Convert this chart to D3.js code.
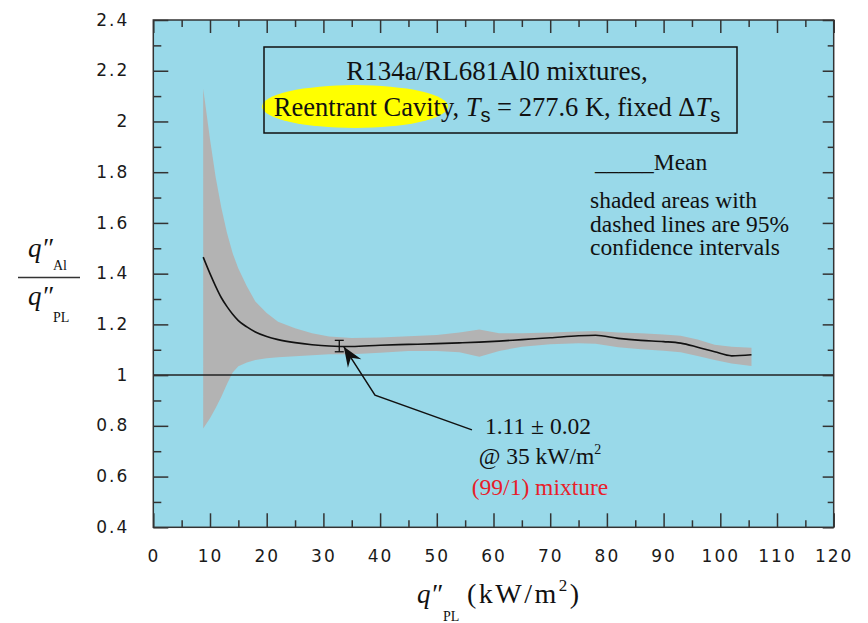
<!DOCTYPE html>
<html>
<head>
<meta charset="utf-8">
<script src="https://cdn.jsdelivr.net/npm/d3@7"></script>
<style>
  body { margin: 0; background: #fff; }
  .serif { font-family: "Liberation Serif", "Times New Roman", serif; fill: #111; }
  .tick text { font-family: "DejaVu Sans", sans-serif; font-size: 17px; letter-spacing: 2px; fill: #1a1a1a; }
  .tick line { stroke: #333; stroke-width: 1.5; }
</style>
</head>
<body>
<div id="chart"></div>
<script>
// heat flux on the plain surface, kW/m^2
const qPL = [8.8, 10, 11, 12, 13, 14, 15, 16.5, 18, 20, 22, 25, 28, 31, 35, 40, 45, 50, 54, 57.5, 61, 65, 70, 75, 78, 82, 86, 90, 93, 96, 99, 102, 105.5];
// mean heat flux ratio q"Al / q"PL
const meanRatio = [1.465, 1.40, 1.35, 1.305, 1.27, 1.24, 1.215, 1.19, 1.17, 1.152, 1.14, 1.128, 1.12, 1.115, 1.113, 1.118, 1.121, 1.124, 1.127, 1.13, 1.134, 1.14, 1.147, 1.155, 1.157, 1.145, 1.137, 1.132, 1.126, 1.11, 1.092, 1.076, 1.08];
// 95% confidence bounds
const upperCI = [2.13, 1.93, 1.78, 1.66, 1.56, 1.48, 1.42, 1.35, 1.29, 1.245, 1.21, 1.185, 1.165, 1.152, 1.146, 1.148, 1.153, 1.158, 1.168, 1.18, 1.165, 1.165, 1.168, 1.172, 1.174, 1.168, 1.165, 1.16, 1.155, 1.14, 1.12, 1.112, 1.108];
const lowerCI = [0.79, 0.83, 0.87, 0.915, 0.965, 1.01, 1.035, 1.05, 1.06, 1.066, 1.07, 1.074, 1.078, 1.082, 1.082, 1.088, 1.095, 1.095, 1.09, 1.072, 1.095, 1.112, 1.122, 1.126, 1.124, 1.11, 1.102, 1.096, 1.09, 1.075, 1.06, 1.046, 1.036];

const xTicks = [0, 10, 20, 30, 40, 50, 60, 70, 80, 90, 100, 110, 120];
const xMinor = [5, 15, 25, 35, 45, 55, 65, 75, 85, 95, 105, 115];
const yTicks = [0.4, 0.6, 0.8, 1, 1.2, 1.4, 1.6, 1.8, 2, 2.2, 2.4];
const yMinor = [0.5, 0.7, 0.9, 1.1, 1.3, 1.5, 1.7, 1.9, 2.1, 2.3];

// annotated point: 1.11 +/- 0.02 at 35 kW/m^2
const errX = 32.8, errLow = 1.092, errHigh = 1.137;
const arrowPts = [[56.2, 0.784], [39.1, 0.921], [33.6, 1.112]];

const width = 868, height = 623;
const plotLeft = 153.3, plotRight = 833.7, plotTop = 20, plotBottom = 527.3;

const svg = d3.select('#chart').append('svg')
    .attr('width', width)
    .attr('height', height);

const x = d3.scaleLinear().domain([0, 120]).range([plotLeft, plotRight]);
const y = d3.scaleLinear().domain([0.4, 2.4]).range([plotBottom, plotTop]);

svg.append('rect')
    .attr('x', plotLeft).attr('y', plotTop)
    .attr('width', plotRight - plotLeft).attr('height', plotBottom - plotTop)
    .attr('fill', '#99d9e9');

const rows = qPL.map((q, i) => ({ q, m: meanRatio[i], hi: upperCI[i], lo: lowerCI[i] }));

svg.append('path')
    .datum(rows)
    .attr('fill', '#b3b3b3')
    .attr('d', d3.area().x(d => x(d.q)).y0(d => y(d.lo)).y1(d => y(d.hi)));

// reference line at ratio 1
svg.append('line')
    .attr('x1', x(0)).attr('x2', x(120))
    .attr('y1', y(1)).attr('y2', y(1))
    .attr('stroke', '#222').attr('stroke-width', 1.5);

svg.append('path')
    .datum(rows)
    .attr('fill', 'none')
    .attr('stroke', '#111')
    .attr('stroke-width', 1.6)
    .attr('d', d3.line().x(d => x(d.q)).y(d => y(d.m)).curve(d3.curveMonotoneX));

// error bar
const eb = svg.append('g').attr('stroke', '#111').attr('stroke-width', 1.3);
eb.append('line').attr('x1', x(errX)).attr('x2', x(errX)).attr('y1', y(errLow)).attr('y2', y(errHigh));
[errLow, errHigh].forEach(v => {
    eb.append('line').attr('x1', x(errX) - 4.5).attr('x2', x(errX) + 4.5).attr('y1', y(v)).attr('y2', y(v));
});

// arrow
svg.append('defs').append('marker')
    .attr('id', 'arrow')
    .attr('markerUnits', 'userSpaceOnUse')
    .attr('markerWidth', 24).attr('markerHeight', 22)
    .attr('viewBox', '-22 -11 24 22')
    .attr('refX', 0).attr('refY', 0)
    .attr('orient', 'auto')
    .append('path')
    .attr('d', 'M0,0 L-20,-8 L-13,0 L-20,8 Z')
    .attr('fill', '#111');

svg.append('path')
    .datum(arrowPts)
    .attr('fill', 'none')
    .attr('stroke', '#111')
    .attr('stroke-width', 1.5)
    .attr('marker-end', 'url(#arrow)')
    .attr('d', d3.line().x(d => x(d[0])).y(d => y(d[1])));

// axes: major + minor ticks on all four sides
function drawAxis(axis, transform, values, size, labels, dy) {
    const g = svg.append('g').attr('transform', transform)
        .call(axis.tickValues(values).tickSizeInner(-size).tickSizeOuter(0)
            .tickFormat(labels ? d => String(d) : ''));
    g.select('.domain').remove();
    if (labels) g.selectAll('.tick text').attr('dy', dy);
    return g;
}
drawAxis(d3.axisBottom(x).tickPadding(23), `translate(0,${plotBottom})`, xTicks, 14, true, '0.71em');
drawAxis(d3.axisBottom(x), `translate(0,${plotBottom})`, xMinor, 7, false);
drawAxis(d3.axisTop(x), `translate(0,${plotTop})`, xTicks, 13, false);
drawAxis(d3.axisTop(x), `translate(0,${plotTop})`, xMinor, 7, false);
drawAxis(d3.axisLeft(y).tickPadding(24), `translate(${plotLeft},0)`, yTicks, 15, true, '0.3em');
drawAxis(d3.axisLeft(y), `translate(${plotLeft},0)`, yMinor, 8, false);
drawAxis(d3.axisRight(y), `translate(${plotRight},0)`, yTicks, 11, false);
drawAxis(d3.axisRight(y), `translate(${plotRight},0)`, yMinor, 6, false);

svg.append('rect')
    .attr('x', plotLeft).attr('y', plotTop)
    .attr('width', plotRight - plotLeft).attr('height', plotBottom - plotTop)
    .attr('fill', 'none').attr('stroke', '#333').attr('stroke-width', 1.5);

// title box
svg.append('ellipse')
    .attr('cx', 355).attr('cy', 106.5).attr('rx', 93).attr('ry', 21.5)
    .attr('fill', '#ffff00');
svg.append('rect')
    .attr('x', 264).attr('y', 47).attr('width', 473).attr('height', 86)
    .attr('fill', 'none').attr('stroke', '#111').attr('stroke-width', 1.5);

svg.append('text').attr('class', 'serif')
    .attr('x', 497).attr('y', 80).attr('text-anchor', 'middle')
    .attr('font-size', 27)
    .text('R134a/RL681Al0 mixtures,');

const t2 = svg.append('text').attr('class', 'serif')
    .attr('x', 497).attr('y', 116).attr('text-anchor', 'middle')
    .attr('font-size', 26.5);
t2.append('tspan').text('Reentrant Cavity, ');
t2.append('tspan').attr('font-style', 'italic').text('T');
t2.append('tspan').attr('font-family', 'Liberation Sans, Arial, sans-serif').attr('font-size', 20).attr('dy', 6).text('s');
t2.append('tspan').attr('dy', -6).text(' = 277.6 K, fixed \u0394');
t2.append('tspan').attr('font-style', 'italic').text('T');
t2.append('tspan').attr('font-family', 'Liberation Sans, Arial, sans-serif').attr('font-size', 20).attr('dy', 6).text('s');

// legend notes
svg.append('text').attr('class', 'serif')
    .attr('x', 595).attr('y', 170).attr('font-size', 23.5)
    .text('_____Mean');
const legendLines = ['shaded areas with', 'dashed lines are 95%', 'confidence intervals'];
svg.append('g').selectAll('text')
    .data(legendLines)
    .join('text')
    .attr('class', 'serif')
    .attr('x', 590).attr('y', (d, i) => 208 + i * 23.5)
    .attr('font-size', 23.5)
    .text(d => d);

// annotation text
const note = svg.append('g').attr('font-size', 23.5).attr('text-anchor', 'middle');
note.append('text').attr('class', 'serif').attr('x', 538).attr('y', 434).text('1.11 \u00b1 0.02');
const n2 = note.append('text').attr('class', 'serif').attr('x', 540).attr('y', 464);
n2.append('tspan').text('@ 35 kW/m');
n2.append('tspan').attr('font-size', 14).attr('dy', -10).text('2');
note.append('text').attr('x', 540).attr('y', 495)
    .style('font-family', '"Liberation Serif", "Times New Roman", serif')
    .style('fill', '#e8202a').text('(99/1) mixture');

// y axis label as a fraction
const yl = svg.append('g');
yl.append('text').attr('class', 'serif').attr('x', 28).attr('y', 257).attr('font-size', 27).attr('font-style', 'italic').text('q\u2033');
yl.append('text').attr('class', 'serif').attr('x', 53).attr('y', 270).attr('font-size', 14).text('Al');
yl.append('line').attr('x1', 18).attr('x2', 80).attr('y1', 277.5).attr('y2', 277.5)
    .attr('stroke', '#333').attr('stroke-width', 1.5);
yl.append('text').attr('class', 'serif').attr('x', 28).attr('y', 305).attr('font-size', 27).attr('font-style', 'italic').text('q\u2033');
yl.append('text').attr('class', 'serif').attr('x', 53).attr('y', 322).attr('font-size', 14).text('PL');

// x axis label
const xl = svg.append('g');
xl.append('text').attr('class', 'serif').attr('x', 417).attr('y', 603).attr('font-size', 27).attr('font-style', 'italic').text('q\u2033');
xl.append('text').attr('class', 'serif').attr('x', 443).attr('y', 621).attr('font-size', 14).text('PL');
const xu = xl.append('text').attr('class', 'serif').attr('x', 467).attr('y', 603).attr('font-size', 28).attr('letter-spacing', 2.5);
xu.append('tspan').text('(kW/m');
xu.append('tspan').attr('font-size', 17).attr('dy', -12).text('2');
xu.append('tspan').attr('dy', 12).text(')');
</script>
</body>
</html>
